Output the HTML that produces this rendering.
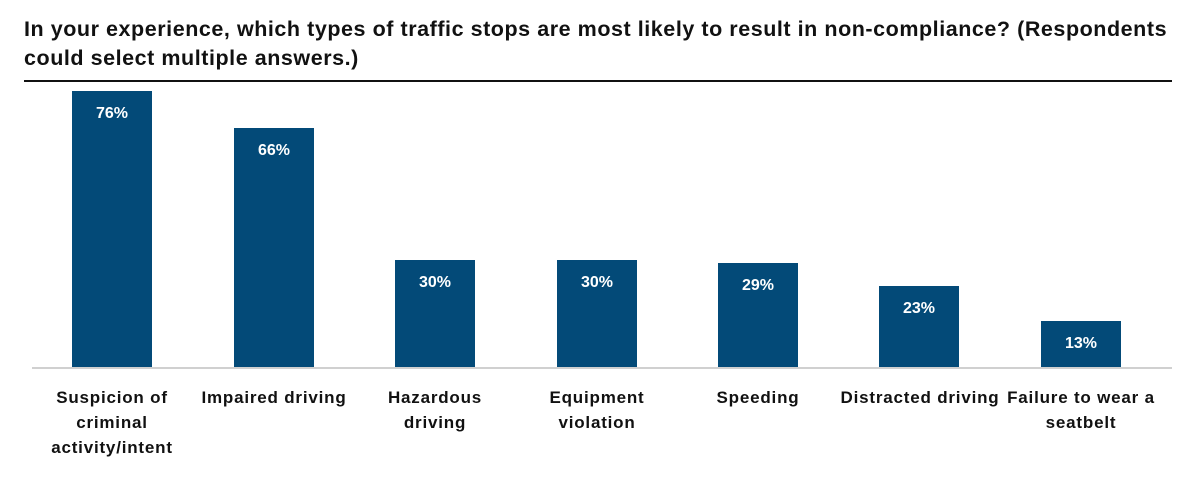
<!DOCTYPE html>
<html><head><style>
body{margin:0;width:1200px;height:484px;background:#fff;font-family:"Liberation Sans",Arial,sans-serif;position:relative;overflow:hidden}
.t{position:absolute;left:24px;top:15px;width:1170px;font-size:21.5px;letter-spacing:0.55px;font-weight:bold;line-height:29px;color:#111;white-space:nowrap}
.rule{position:absolute;left:24px;top:80px;width:1148px;height:2px;background:#111}
.base{position:absolute;left:32px;top:367px;width:1140px;height:2px;background:#d0d0d0}
.b{position:absolute;width:80px;background:#034a78;bottom:116px;color:#fff;font-weight:bold;font-size:16px;text-align:center}
.b span{position:absolute;left:0;right:0;top:14px}
.l{position:absolute;top:385px;width:170px;text-align:center;font-size:17px;letter-spacing:0.8px;font-weight:bold;line-height:25px;color:#111}
</style></head><body>
<div class="t">In your experience, which types of traffic stops are most likely to result in non-compliance? (Respondents<br>could select multiple answers.)</div>
<div class="rule"></div>
<div class="b" style="left:72px;top:91px"><span>76%</span></div>
<div class="b" style="left:234px;top:128px"><span>66%</span></div>
<div class="b" style="left:395px;top:260px"><span>30%</span></div>
<div class="b" style="left:557px;top:260px"><span>30%</span></div>
<div class="b" style="left:718px;top:263px"><span>29%</span></div>
<div class="b" style="left:879px;top:286px"><span>23%</span></div>
<div class="b" style="left:1041px;top:321px"><span>13%</span></div>
<div class="base"></div>
<div class="l" style="left:27px">Suspicion of<br>criminal<br>activity/intent</div>
<div class="l" style="left:189px">Impaired driving</div>
<div class="l" style="left:350px">Hazardous<br>driving</div>
<div class="l" style="left:512px">Equipment<br>violation</div>
<div class="l" style="left:673px">Speeding</div>
<div class="l" style="left:835px">Distracted driving</div>
<div class="l" style="left:996px">Failure to wear a<br>seatbelt</div>
</body></html>
